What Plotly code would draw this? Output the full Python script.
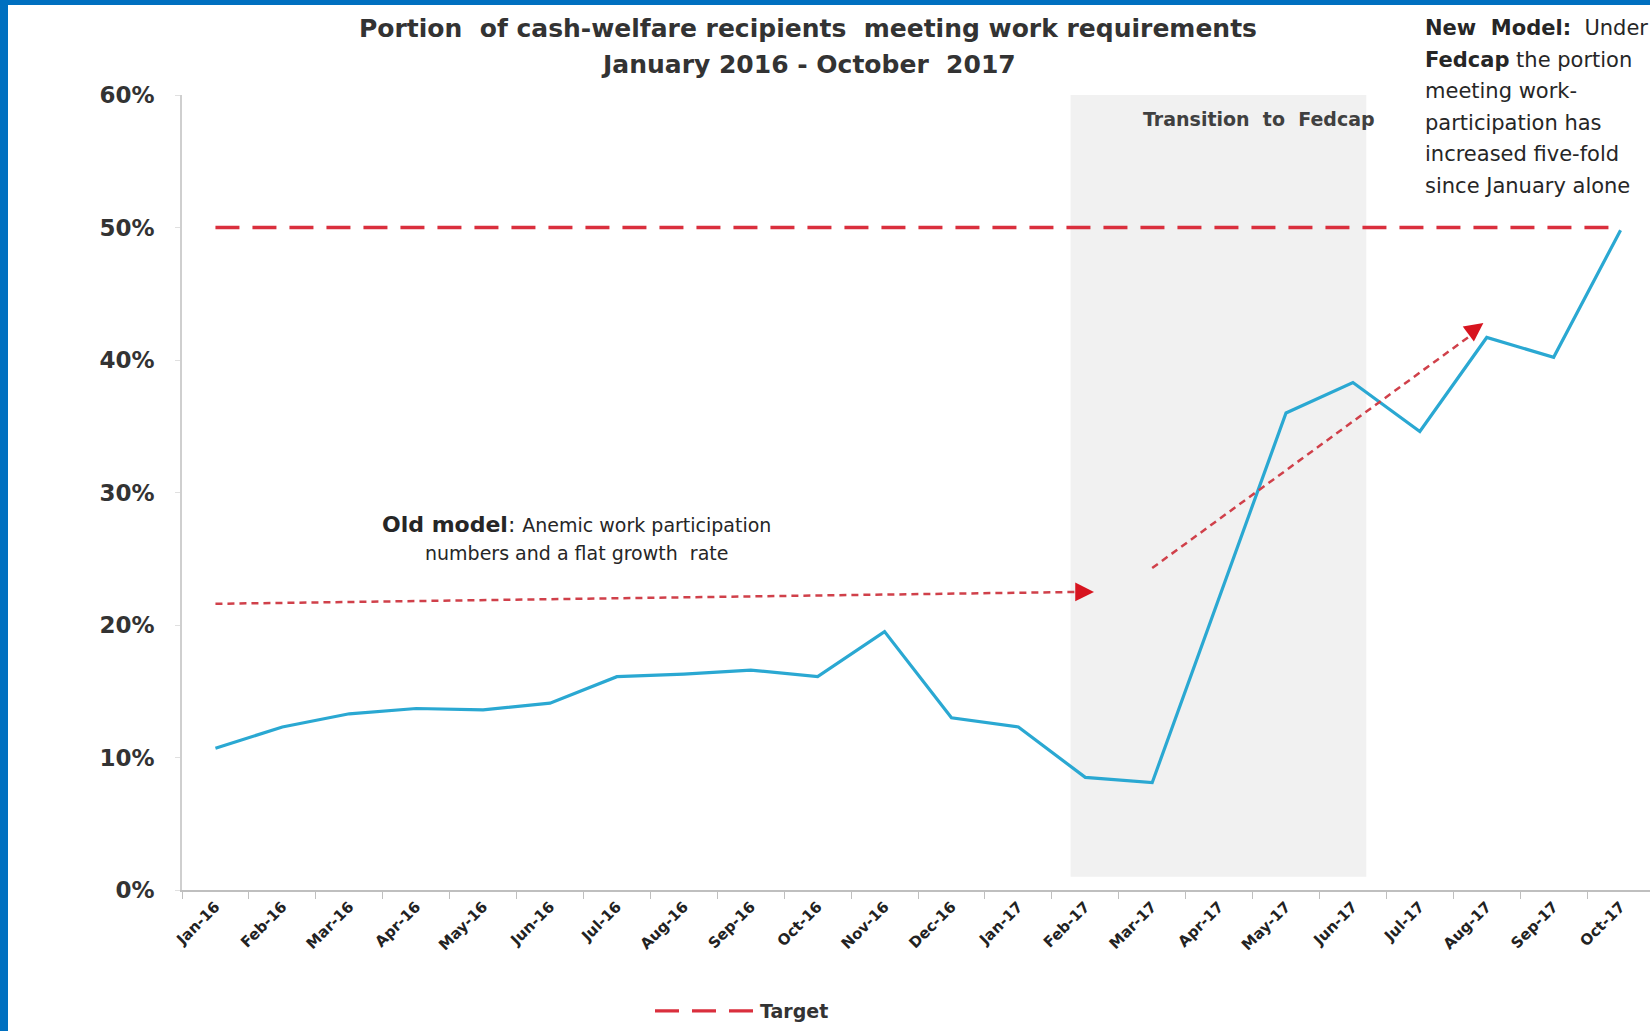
import plotly.graph_objects as go

months = ["Jan-16", "Feb-16", "Mar-16", "Apr-16", "May-16", "Jun-16", "Jul-16", "Aug-16",
          "Sep-16", "Oct-16", "Nov-16", "Dec-16", "Jan-17", "Feb-17", "Mar-17", "Apr-17",
          "May-17", "Jun-17", "Jul-17", "Aug-17", "Sep-17", "Oct-17"]
portion = [10.7, 12.3, 13.3, 13.7, 13.6, 14.1, 16.1, 16.3, 16.6, 16.1, 19.5, 13.0,
           12.3, 8.5, 8.1, 22.0, 36.0, 38.3, 34.6, 41.7, 40.2, 49.8]
target = [50] * len(months)

y_ticks = [0, 10, 20, 30, 40, 50, 60]
y_tick_text = ["0%", "10%", "20%", "30%", "40%", "50%", "60%"]

# shaded transition period (category index units) and trend arrows
transition = (12.78, 17.2, 1.0, 60.0)
old_arrow = (0.0, 21.6, 13.13, 22.5)
new_arrow = (14.0, 24.3, 18.95, 42.8)

FONT = "'DejaVu Sans', Verdana, sans-serif"
TXT = "#262626"

W, H = 1650, 1031
L, R, T, B = 182, 0, 95, 141
PW, PH = W - L - R, H - T - B


def px(xp):
    return (xp - L) / PW


def py(yp):
    return (H - B - yp) / PH


fig = go.Figure()
fig.add_trace(go.Scatter(x=months, y=portion, mode="lines",
                         line=dict(color="#2AA8D2", width=3.2),
                         showlegend=False, hoverinfo="x+y"))
fig.add_trace(go.Scatter(x=months, y=target, mode="lines", name="Target",
                         line=dict(color="#DA2F3D", width=3.4, dash="24px,13px")))

shapes = [
    dict(type="rect", xref="x", yref="y", x0=transition[0], x1=transition[1],
         y0=transition[2], y1=transition[3], fillcolor="#F1F1F1", line=dict(width=0),
         layer="below"),
    dict(type="line", xref="x", yref="y", x0=old_arrow[0], y0=old_arrow[1],
         x1=old_arrow[2] - 0.2, y1=old_arrow[3], line=dict(color="#D0404A", width=2.5, dash="7px,5px")),
    dict(type="line", xref="x", yref="y", x0=new_arrow[0], y0=new_arrow[1],
         x1=new_arrow[2] - 0.15, y1=new_arrow[3] - 0.8, line=dict(color="#D0404A", width=2.5, dash="7px,5px")),
    # blue frame
    dict(type="rect", xref="paper", yref="paper", x0=px(-20), x1=px(8),
         y0=py(H + 20), y1=py(-20), fillcolor="#0070C0", line=dict(width=0)),
    dict(type="rect", xref="paper", yref="paper", x0=px(-20), x1=px(W + 20),
         y0=py(5), y1=py(-20), fillcolor="#0070C0", line=dict(width=0)),
]

annotations = [
    dict(xref="paper", yref="paper", x=px(808), y=py(28), xanchor="center", yanchor="middle",
         text="<b>Portion  of cash-welfare recipients  meeting work requirements</b>",
         showarrow=False, font=dict(size=25, color="#333333", family=FONT)),
    dict(xref="paper", yref="paper", x=px(808), y=py(64), xanchor="center", yanchor="middle",
         text="<b>January 2016 - October  2017</b>",
         showarrow=False, font=dict(size=25, color="#333333", family=FONT)),
    dict(xref="x", yref="y", x=(transition[0] + transition[1]) / 2 + 0.6, y=58.2,
         xanchor="center", text="<b>Transition  to  Fedcap</b>", showarrow=False,
         font=dict(size=19, color="#404040", family=FONT)),
    dict(xref="paper", yref="paper", x=px(576), y=py(524), xanchor="center", yanchor="middle",
         text="<b>Old model</b>: <span style='font-size:19px'>Anemic work participation</span>",
         showarrow=False, font=dict(size=22, color=TXT, family=FONT)),
    dict(xref="paper", yref="paper", x=px(576), y=py(553), xanchor="center", yanchor="middle",
         text="numbers and a flat growth  rate", showarrow=False,
         font=dict(size=19, color=TXT, family=FONT)),
    # arrow heads
    dict(xref="x", yref="y", x=old_arrow[2], y=old_arrow[3], ax=-16, ay=0, text="",
         showarrow=True, arrowhead=2, arrowsize=1.5, arrowwidth=2.5, arrowcolor="#D7141F"),
    dict(xref="x", yref="y", x=new_arrow[2], y=new_arrow[3], ax=-13, ay=9.6, text="",
         showarrow=True, arrowhead=2, arrowsize=1.5, arrowwidth=2.5, arrowcolor="#D7141F"),
]

new_lines = ["<b>New&nbsp; Model:</b>&nbsp; Under",
             "<b>Fedcap</b> the portion",
             "meeting work-",
             "participation has",
             "increased five-fold",
             "since January alone"]
for i, ln in enumerate(new_lines):
    annotations.append(dict(xref="paper", yref="paper", x=px(1423),
                            y=py(28 + 31.6 * i), xanchor="left", yanchor="middle",
                            text=ln, showarrow=False, align="left",
                            font=dict(size=21, color=TXT, family=FONT)))

fig.update_layout(
    width=W, height=H,
    margin=dict(l=L, r=R, t=T, b=B, autoexpand=False),
    paper_bgcolor="white", plot_bgcolor="white",
    font=dict(family=FONT, color="#404040"),
    shapes=shapes, annotations=annotations,
    showlegend=True,
    legend=dict(orientation="h", x=px(742), xanchor="center",
                y=py(1011), yanchor="middle", itemwidth=100,
                font=dict(size=19, color="#333333", family=FONT, weight="bold")),
    xaxis=dict(type="category", range=[-0.5, 21.44], tickangle=-45, automargin=False,
               tickson="boundaries", ticks="outside", ticklen=7, tickcolor="#BFBFBF",
               showline=True, linecolor="#BFBFBF", linewidth=2, showgrid=False,
               tickfont=dict(size=15, color="#222222", family=FONT, weight="bold")),
    yaxis=dict(range=[0, 60], tickvals=y_ticks, ticktext=y_tick_text, automargin=False,
               showline=True, linecolor="#CFCFCF", linewidth=1.5, showgrid=False,
               zeroline=False, ticks="outside", ticklen=5, tickcolor="#E0E0E0",
               ticklabelstandoff=16,
               tickfont=dict(size=23, color="#333333", family=FONT, weight="bold")),
)

fig.write_html("out.html", config={"displayModeBar": False},
               post_script="document.body.style.margin='0px';document.body.style.overflow='hidden';")
